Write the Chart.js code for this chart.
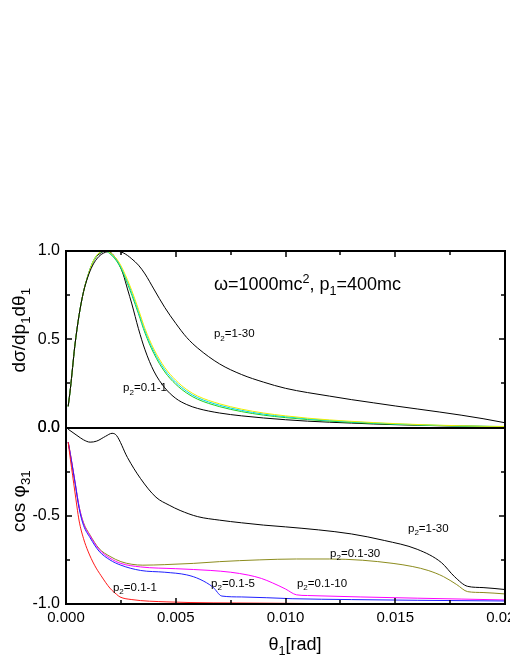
<!DOCTYPE html>
<html lang="en">
<head>
  <meta charset="UTF-8">
  <title>dσ/dp1dθ1 and cos φ31 vs θ1</title>
  <script src="https://cdn.jsdelivr.net/npm/chart.js@4.4.0/dist/chart.umd.min.js"></script>
  <style>
    html, body { margin: 0; padding: 0; background: #ffffff; overflow: hidden; }
    #wrap { width: 510px; height: 660px; overflow: hidden; }
    canvas { display: block; }
  </style>
</head>
<body>
  <div id="wrap"><canvas id="chart" width="540" height="660"></canvas></div>

  <script>
    const FONT = '"Liberation Sans", Arial, sans-serif';

    // ---- top panel: dσ/dp1dθ1 (normalised) ----
    const thetaTop = [0.0001, 0.0002, 0.0003, 0.0004, 0.0006, 0.0008, 0.001, 0.0012, 0.0014, 0.0016,
      0.0018, 0.002, 0.0022, 0.0024, 0.0026, 0.0028, 0.003, 0.0033, 0.0036, 0.004,
      0.0045, 0.005, 0.0055, 0.006, 0.007, 0.008, 0.009, 0.01, 0.011, 0.012,
      0.013, 0.014, 0.015, 0.016, 0.017, 0.018, 0.019, 0.02];
    const sigma01_1 = [0.12, 0.22, 0.34, 0.46, 0.64, 0.77, 0.86, 0.93, 0.97, 0.99,
      1.0, 0.995, 0.97, 0.93, 0.87, 0.785, 0.7, 0.56, 0.44, 0.32,
      0.225, 0.165, 0.13, 0.108, 0.082, 0.066, 0.054, 0.044, 0.036, 0.03,
      0.025, 0.02, 0.016, 0.013, 0.01, 0.008, 0.006, 0.005];
    const sigma01_5 = [0.12, 0.22, 0.34, 0.46, 0.64, 0.77, 0.86, 0.93, 0.975, 0.995,
      0.998, 0.985, 0.96, 0.925, 0.875, 0.815, 0.75, 0.645, 0.535, 0.42,
      0.315, 0.245, 0.195, 0.16, 0.118, 0.09, 0.07, 0.056, 0.045, 0.036,
      0.029, 0.023, 0.018, 0.014, 0.011, 0.008, 0.006, 0.005];
    const sigma01_10 = [0.12, 0.22, 0.34, 0.46, 0.64, 0.77, 0.86, 0.93, 0.975, 0.995,
      0.999, 0.988, 0.965, 0.932, 0.884, 0.826, 0.762, 0.657, 0.547, 0.432,
      0.327, 0.256, 0.205, 0.169, 0.126, 0.097, 0.076, 0.061, 0.049, 0.04,
      0.032, 0.026, 0.02, 0.016, 0.012, 0.009, 0.007, 0.005];
    const sigma01_30 = [0.12, 0.22, 0.34, 0.46, 0.64, 0.77, 0.86, 0.93, 0.976, 0.996,
      1.0, 0.991, 0.97, 0.939, 0.893, 0.837, 0.775, 0.67, 0.56, 0.445,
      0.34, 0.268, 0.215, 0.178, 0.134, 0.104, 0.082, 0.066, 0.053, 0.043,
      0.035, 0.028, 0.022, 0.017, 0.013, 0.01, 0.007, 0.006];
    const sigma1_30 = [0.12, 0.22, 0.34, 0.46, 0.64, 0.77, 0.855, 0.915, 0.955, 0.98,
      0.993, 0.999, 1.0, 0.998, 0.99, 0.975, 0.955, 0.92, 0.87, 0.785,
      0.68, 0.59, 0.51, 0.45, 0.36, 0.3, 0.257, 0.222, 0.198, 0.178,
      0.158, 0.14, 0.122, 0.105, 0.088, 0.07, 0.05, 0.027];

    // ---- bottom panel: cos φ31 ----
    const cos1_30X = [0.0001, 0.0005, 0.0008, 0.0011, 0.0014, 0.0018, 0.0021, 0.0023, 0.0028, 0.0034,
      0.0041, 0.0047, 0.0052, 0.006, 0.007, 0.008, 0.009, 0.01, 0.0115, 0.013,
      0.0145, 0.016, 0.0171, 0.0177, 0.0183, 0.019, 0.02];
    const cos1_30Y = [-0.01, -0.045, -0.07, -0.083, -0.077, -0.05, -0.033, -0.045, -0.17, -0.29,
      -0.395, -0.44, -0.47, -0.505, -0.525, -0.54, -0.553, -0.563, -0.58, -0.603,
      -0.64, -0.69, -0.765, -0.845, -0.9, -0.907, -0.918];

    const cos01_30X = [0.0001, 0.0002, 0.0004, 0.0006, 0.0008, 0.0011, 0.0015, 0.002, 0.0025, 0.003,
      0.0035, 0.0045, 0.0058, 0.007, 0.0088, 0.0105, 0.012, 0.0135, 0.0149, 0.0158,
      0.0165, 0.0172, 0.0178, 0.0183, 0.019, 0.02];
    const cos01_30Y = [-0.083, -0.15, -0.3, -0.45, -0.54, -0.61, -0.685, -0.73, -0.76, -0.775,
      -0.78, -0.777, -0.77, -0.76, -0.75, -0.745, -0.745, -0.752, -0.77, -0.788,
      -0.81, -0.845, -0.89, -0.93, -0.935, -0.943];

    const cos01_10X = [0.0001, 0.0002, 0.0004, 0.0006, 0.0008, 0.0011, 0.0015, 0.002, 0.0025, 0.0034,
      0.005, 0.0066, 0.0075, 0.0083, 0.0089, 0.0094, 0.01, 0.0105, 0.011, 0.0134,
      0.016, 0.018, 0.02];
    const cos01_10Y = [-0.083, -0.15, -0.3, -0.45, -0.545, -0.615, -0.69, -0.74, -0.77, -0.79,
      -0.8, -0.81, -0.82, -0.836, -0.855, -0.88, -0.915, -0.948, -0.952, -0.96,
      -0.967, -0.972, -0.977];

    const cos01_5X = [0.0001, 0.0002, 0.0004, 0.0006, 0.0008, 0.0011, 0.0015, 0.002, 0.0025, 0.0034,
      0.0045, 0.0055, 0.0061, 0.0067, 0.0071, 0.008, 0.0103, 0.013, 0.016, 0.02];
    const cos01_5Y = [-0.083, -0.155, -0.305, -0.46, -0.555, -0.625, -0.7, -0.75, -0.78, -0.81,
      -0.82, -0.835, -0.86, -0.905, -0.955, -0.96, -0.97, -0.975, -0.979, -0.983];

    const cos01_1X = [0.0001, 0.0002, 0.0003, 0.0004, 0.0006, 0.0008, 0.001, 0.0013, 0.0016, 0.002,
      0.0023, 0.00246, 0.003, 0.0046, 0.0088, 0.012, 0.02];
    const cos01_1Y = [-0.083, -0.18, -0.27, -0.36, -0.53, -0.63, -0.7, -0.78, -0.84, -0.91,
      -0.945, -0.96, -0.975, -0.988, -0.995, -0.998, -0.999];

    const xTickLabels = ['0.000', '0.005', '0.010', '0.015', '0.020'];

    // text labels inside the panels: [parts, theta, value, axis, size]
    const notes = [
      [[['ω=1000mc', ''], ['2', 'sup'], [', p', ''], ['1', 'sub'], ['=400mc', '']], 0.00674, 0.778, 'yTop', 18],
      [[['p', ''], ['2', 'sub'], ['=1-30', '']], 0.00674, 0.511, 'yTop', 11.5],
      [[['p', ''], ['2', 'sub'], ['=0.1-1', '']], 0.0026, 0.205, 'yTop', 11.5],
      [[['p', ''], ['2', 'sub'], ['=1-30', '']], 0.01558, -0.593, 'yBot', 11.5],
      [[['p', ''], ['2', 'sub'], ['=0.1-30', '']], 0.01203, -0.734, 'yBot', 11.5],
      [[['p', ''], ['2', 'sub'], ['=0.1-10', '']], 0.01052, -0.904, 'yBot', 11.5],
      [[['p', ''], ['2', 'sub'], ['=0.1-5', '']], 0.00661, -0.904, 'yBot', 11.5],
      [[['p', ''], ['2', 'sub'], ['=0.1-1', '']], 0.00214, -0.927, 'yBot', 11.5]
    ];

    function pts(xs, ys) {
      return xs.map((x, i) => ({ x: x, y: ys[i] }));
    }

    function line(xs, ys, color, axis) {
      return {
        data: pts(xs, ys),
        yAxisID: axis,
        borderColor: color,
        borderWidth: 1,
        pointRadius: 0,
        fill: false,
        cubicInterpolationMode: 'monotone'
      };
    }

    // draws text with sub/superscripts
    function drawRich(ctx, parts, x, y, size, align) {
      let w = 0;
      parts.forEach(([t, m]) => {
        ctx.font = (m ? size * 0.7 : size) + 'px ' + FONT;
        w += ctx.measureText(t).width;
      });
      let cx = align === 'center' ? x - w / 2 : x;
      parts.forEach(([t, m]) => {
        ctx.font = (m ? size * 0.7 : size) + 'px ' + FONT;
        const dy = m === 'sub' ? size * 0.28 : (m === 'sup' ? -size * 0.38 : 0);
        ctx.fillText(t, cx, y + dy);
        cx += ctx.measureText(t).width;
      });
    }

    const framePlugin = {
      id: 'frame',
      afterDatasetsDraw(chart) {
        const { ctx, chartArea: a, scales } = chart;
        const xs = scales.x, yT = scales.yTop, yB = scales.yBot;
        ctx.save();
        ctx.strokeStyle = '#000';

        // inward ticks
        ctx.lineWidth = 1.5;
        ctx.beginPath();
        for (let i = 1; i < 8; i++) {
          const v = i * 0.0025;
          const px = Math.round(xs.getPixelForValue(v));
          const len = i % 2 === 0 ? 6 : 4;
          ctx.moveTo(px, a.bottom); ctx.lineTo(px, a.bottom - len);
          ctx.moveTo(px, a.top); ctx.lineTo(px, a.top + len);
        }
        [[yT, 0.25], [yT, 0.5], [yT, 0.75], [yB, -0.25], [yB, -0.5], [yB, -0.75]].forEach(([s, v]) => {
          const py = Math.round(s.getPixelForValue(v));
          const len = v === 0.5 || v === -0.5 ? 6 : 4;
          ctx.moveTo(a.left, py); ctx.lineTo(a.left + len, py);
          ctx.moveTo(a.right, py); ctx.lineTo(a.right - len, py);
        });
        ctx.stroke();

        // frame and divider
        ctx.lineWidth = 2;
        ctx.strokeRect(a.left, a.top, a.right - a.left, a.bottom - a.top);
        const mid = Math.round(yT.getPixelForValue(0));
        ctx.beginPath();
        ctx.moveTo(a.left, mid); ctx.lineTo(a.right, mid);
        ctx.stroke();

        // notes
        ctx.fillStyle = '#000';
        ctx.textBaseline = 'alphabetic';
        ctx.textAlign = 'left';
        notes.forEach(([parts, th, val, axis, size]) => {
          drawRich(ctx, parts, xs.getPixelForValue(th), scales[axis].getPixelForValue(val), size, 'left');
        });

        // axis titles
        ctx.save();
        ctx.translate(25, yT.getPixelForValue(0.551));
        ctx.rotate(-Math.PI / 2);
        drawRich(ctx, [['dσ/dp', ''], ['1', 'sub'], ['dθ', ''], ['1', 'sub']], 0, 0, 19, 'center');
        ctx.restore();

        ctx.save();
        ctx.translate(25, yB.getPixelForValue(-0.418));
        ctx.rotate(-Math.PI / 2);
        drawRich(ctx, [['cos φ', ''], ['31', 'sub']], 0, 0, 19, 'center');
        ctx.restore();

        drawRich(ctx, [['θ', ''], ['1', 'sub'], ['[rad]', '']], xs.getPixelForValue(0.01043), 650, 18, 'center');

        ctx.restore();
      }
    };

    const ctx = document.getElementById('chart').getContext('2d');
    const chart = new Chart(ctx, {
      type: 'line',
      data: {
        datasets: [
          line(thetaTop, sigma1_30, '#000000', 'yTop'),
          line(thetaTop, sigma01_30, '#eeee00', 'yTop'),
          line(thetaTop, sigma01_10, '#00d8e8', 'yTop'),
          line(thetaTop, sigma01_5, '#1fcf1f', 'yTop'),
          line(thetaTop, sigma01_1, '#000000', 'yTop'),
          line(cos01_1X, cos01_1Y, '#ff1a1a', 'yBot'),
          line(cos01_5X, cos01_5Y, '#2020ff', 'yBot'),
          line(cos01_10X, cos01_10Y, '#ff00ff', 'yBot'),
          line(cos01_30X, cos01_30Y, '#8c8c1e', 'yBot'),
          line(cos1_30X, cos1_30Y, '#000000', 'yBot')
        ]
      },
      options: {
        responsive: false,
        animation: false,
        devicePixelRatio: 1,
        layout: { padding: { top: 251, right: 35, left: 0, bottom: 0 } },
        plugins: {
          legend: { display: false },
          tooltip: { enabled: false }
        },
        scales: {
          x: {
            type: 'linear',
            position: 'bottom',
            min: 0,
            max: 0.02,
            grid: { display: false, drawTicks: false },
            border: { display: false },
            ticks: {
              stepSize: 0.005,
              autoSkip: false,
              maxRotation: 0,
              padding: 5,
              color: '#000',
              font: { family: FONT, size: 15 },
              callback: (v, i) => xTickLabels[i]
            },
            afterFit: s => { s.height = 56; }
          },
          yBot: {
            type: 'linear',
            position: 'left',
            stack: 'panels',
            stackWeight: 1,
            min: -1,
            max: 0,
            grid: { display: false, drawTicks: false },
            border: { display: false },
            ticks: {
              stepSize: 0.5,
              padding: 6,
              color: '#000',
              font: { family: FONT, size: 16 },
              callback: v => v.toFixed(1)
            },
            afterFit: s => { s.width = 66; }
          },
          yTop: {
            type: 'linear',
            position: 'left',
            stack: 'panels',
            stackWeight: 1,
            min: 0,
            max: 1,
            grid: { display: false, drawTicks: false },
            border: { display: false },
            ticks: {
              stepSize: 0.5,
              padding: 6,
              color: '#000',
              font: { family: FONT, size: 16 },
              callback: v => v.toFixed(1)
            },
            afterFit: s => { s.width = 66; }
          }
        }
      },
      plugins: [framePlugin]
    });
  </script>
</body>
</html>
